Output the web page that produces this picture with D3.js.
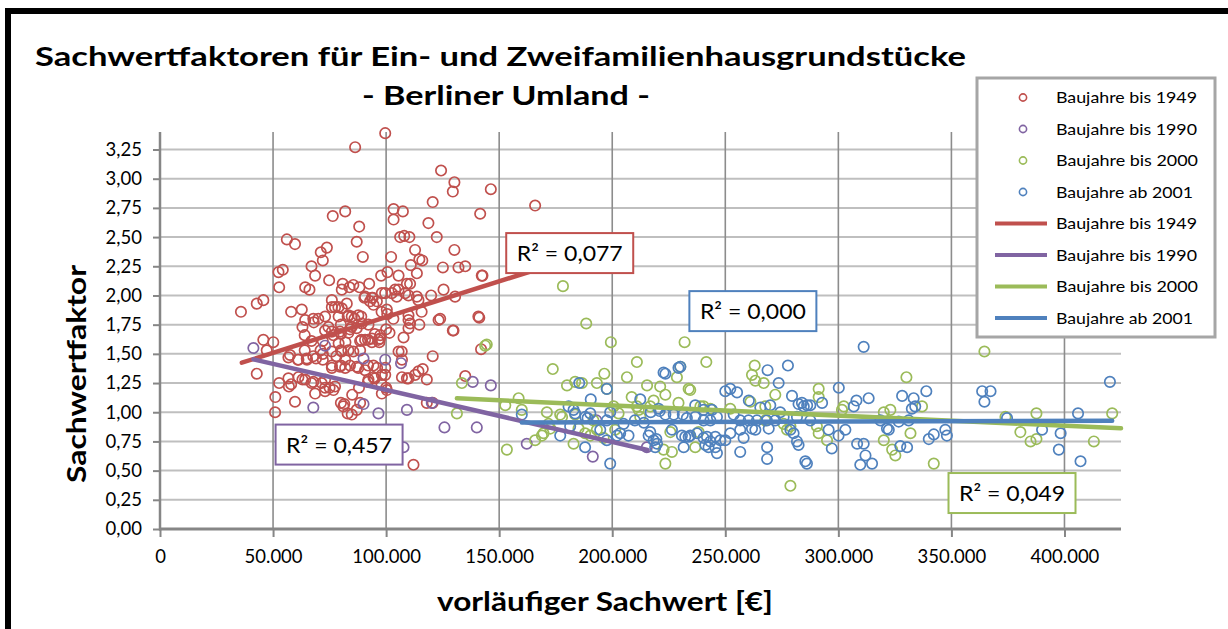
<!DOCTYPE html>
<html>
<head>
<meta charset="utf-8">
<script src="https://cdn.jsdelivr.net/npm/d3@7"></script>
<style>
  html, body { margin: 0; padding: 0; background: #fff; overflow: hidden; }
  #chart { width: 1228px; height: 629px; overflow: hidden; }
  text { font-family: Lato, "DejaVu Sans", sans-serif; fill: #000; }
</style>
</head>
<body>
<div id="chart"></div>
<script>
// x in 1.000 €, y = Sachwertfaktor
const bis1949 = [
  [35.8,1.86],[42.8,1.93],[45.7,1.96],[56.1,2.48],[59.7,2.44],[52.4,2.20],[54.3,2.22],[52.7,2.07],[45.7,1.62],[50.1,1.60],
  [58.0,1.86],[62.7,1.88],[64.2,2.07],[66.1,2.05],[67.0,2.25],[68.6,2.17],[71.1,2.37],[73.8,2.41],[72.0,2.30],[74.8,2.13],
  [76.4,2.68],[81.9,2.72],[86.3,3.27],[99.6,3.39],[88.1,2.59],[87.0,2.46],[89.7,2.33],[80.8,2.10],[83.8,2.07],[85.5,2.09],
  [88.2,2.07],[92.5,2.10],[80.4,2.05],[76.0,1.96],[78.9,1.90],[82.6,1.93],[90.4,1.98],[94.1,1.98],[92.9,1.95],[95.9,1.95],
  [97.8,2.17],[100.6,2.20],[102.2,2.33],[103.3,2.74],[103.3,2.65],[107.4,2.72],[106.2,2.50],[108.0,2.51],[110.3,2.50],[112.8,2.39],
  [114.7,2.31],[116.0,2.30],[110.9,2.26],[113.6,2.19],[109.2,2.10],[105.5,2.17],[104.0,2.05],[104.7,1.99],[99.6,2.02],[100.3,1.88],
  [98.0,1.86],[109.9,2.00],[114.3,1.96],[118.7,2.62],[120.6,2.80],[122.4,2.50],[124.3,3.07],[129.5,2.89],[130.2,2.97],[141.6,2.70],
  [146.3,2.91],[165.9,2.77],[130.2,2.39],[125.1,2.24],[132.0,2.24],[135.0,2.25],[142.6,2.17],[119.9,2.00],[125.4,2.05],[130.5,1.99],
  [123.2,1.79],[129.5,1.70],[141.2,1.81],[142.0,1.54],[120.6,1.48],[116.2,1.37],[118.0,1.28],[112.8,1.32],[109.2,1.29],[107.0,1.30],
  [107.7,1.64],[106.9,1.52],[101.5,1.68],[99.6,1.38],[99.6,1.32],[109.9,1.79],[114.7,1.75],[109.9,1.72],[103.2,1.80],[97.3,1.63],
  [95.0,1.67],[93.7,1.60],[88.5,1.61],[82.0,1.60],[79.0,1.59],[88.5,1.53],[80.0,1.53],[76.0,1.52],[72.0,1.50],[72.0,1.45],
  [76.0,1.40],[80.0,1.40],[84.0,1.40],[87.0,1.39],[92.0,1.40],[96.0,1.38],[92.0,1.26],[95.0,1.29],[98.0,1.24],[100.0,1.21],
  [88.0,1.21],[85.0,1.15],[80.0,1.08],[81.5,1.07],[87.0,1.02],[83.0,0.99],[75.0,1.21],[73.0,1.21],[67.0,1.25],[63.0,1.28],
  [58.0,1.24],[57.0,1.22],[51.0,1.13],[50.9,1.00],[52.7,1.25],[42.8,1.33],[47.2,1.53],[56.8,1.47],[61.0,1.45],[65.0,1.45],
  [69.0,1.46],[71.0,1.53],[64.0,1.53],[67.0,1.61],[72.0,1.61],[76.0,1.69],[80.0,1.67],[64.0,1.66],[63.0,1.73],[68.0,1.77],
  [70.0,1.80],[73.0,1.82],[76.0,1.90],[79.0,1.82],[83.0,1.82],[86.0,1.80],[89.0,1.82],[80.0,1.75],[84.0,1.71],[89.0,1.62],
  [92.0,1.62],[97.0,1.60],[100.0,1.71],[100.5,1.84],[59.7,1.09],[57.5,1.49],[61.2,1.45],[64.9,1.46],[67.8,1.48],[56.8,1.29],
  [61.2,1.30],[64.2,1.28],[67.8,1.26],[71.5,1.25],[73.0,1.28],[76.7,1.19],[77.4,1.22],[68.6,1.16],[73.0,1.18],[81.1,1.05],
  [84.8,0.98],[88.5,1.08],[64.2,1.79],[67.8,1.80],[77.4,1.90],[80.4,1.89],[83.3,1.83],[84.8,1.82],[87.7,1.83],[79.6,1.69],
  [83.3,1.68],[84.8,1.73],[87.0,1.72],[89.2,1.76],[92.2,1.75],[73.0,1.70],[74.5,1.73],[76.7,1.66],[90.7,1.62],[93.7,1.63],
  [96.6,1.62],[97.4,1.66],[78.0,1.48],[80.4,1.52],[83.3,1.53],[85.5,1.52],[81.9,1.45],[76.0,1.38],[79.6,1.39],[81.9,1.38],
  [87.7,1.38],[90.7,1.36],[94.4,1.40],[92.2,1.28],[94.4,1.30],[98.1,1.32],[100.3,1.19],[98.1,1.16],[105.5,1.52],[107.0,1.45],
  [109.9,1.29],[114.3,1.35],[112.1,0.55],[109.9,1.83],[110.6,1.76],[113.6,1.99],[115.7,1.86],[98.1,2.02],[102.5,2.02],[105.5,2.05],
  [108.4,2.02],[110.6,2.10],[90.7,1.99],[93.7,1.98],[94.4,1.92],[135.0,1.31],[129.8,1.70],[140.8,1.82],[142.3,2.17],[118.0,1.08],
  [120.6,1.08],[123.9,1.80]
];
const bis1990 = [
  [41.3,1.55],[73.0,1.57],[90.0,1.46],[99.6,1.45],[106.6,1.42],[67.8,1.04],[90.0,1.07],[96.6,0.99],[109.2,1.02],[138.3,1.26],
  [146.3,1.23],[125.8,0.87],[140.1,0.87],[162.2,0.73],[107.7,0.70],[120.2,1.08],[191.4,0.62],[215.3,0.70],[193.0,0.93]
];
const bis2000 = [
  [178.2,2.08],[188.5,1.76],[199.4,1.60],[232.0,1.60],[241.6,1.43],[210.9,1.43],[173.7,1.37],[206.5,1.30],[196.5,1.33],[180.0,1.23],
  [183.6,1.26],[186.6,1.25],[193.2,1.25],[197.6,1.20],[215.4,1.23],[221.2,1.22],[223.5,1.15],[233.8,1.20],[228.6,1.30],[230.1,1.39],
  [263.0,1.40],[261.8,1.32],[263.3,1.27],[267.0,1.25],[272.1,1.15],[291.3,1.20],[291.3,1.13],[330.1,1.30],[323.0,1.02],[320.1,1.00],
  [323.8,0.68],[331.9,0.82],[320.1,0.76],[342.2,0.56],[278.8,0.37],[152.7,1.06],[158.6,1.12],[160.0,1.02],[153.4,0.68],[131.3,0.99],
  [133.5,1.25],[165.9,0.76],[169.6,0.82],[171.1,1.00],[172.6,0.86],[177.0,0.98],[182.9,0.73],[183.6,0.98],[188.0,0.82],[191.7,0.93],
  [200.6,1.05],[202.8,0.99],[208.6,1.13],[210.9,1.05],[212.4,0.96],[216.8,1.05],[222.7,0.68],[223.5,0.56],[225.7,0.83],[226.4,0.66],
  [229.3,1.08],[236.7,0.70],[238.2,0.83],[240.4,1.05],[261.1,1.09],[275.8,0.90],[277.3,0.85],[290.5,0.88],[295.0,0.76],[302.4,1.05],
  [325.2,0.63],[168.9,0.80],[171.8,0.90],[177.8,0.96],[185.1,0.86],[190.3,0.80],[193.2,0.85],[196.2,0.78],[201.3,0.85],[211.7,1.02],
  [218.3,1.10],[234.5,1.19],[267.7,0.93],[278.8,0.88],[291.3,0.82],[301.6,1.02],[239.0,1.05],[243.4,1.03],[252.2,1.03],[267.7,1.05],
  [364.6,1.52],[337.0,1.05],[373.9,0.96],[380.5,0.83],[385.0,0.75],[387.6,0.77],[387.6,0.99],[413.0,0.75],[421.1,0.99],[143.8,1.57],
  [144.5,1.58]
];
const ab2001 = [
  [160.0,0.98],[185.4,1.25],[197.6,1.20],[190.5,1.11],[177.0,0.80],[181.4,0.88],[183.6,0.99],[188.0,0.70],[189.1,0.95],[190.3,0.99],
  [194.7,0.85],[197.6,0.76],[199.1,0.56],[202.1,0.80],[203.5,0.82],[207.2,0.80],[212.4,1.11],[216.1,0.80],[219.5,0.77],[219.0,0.70],
  [222.7,1.34],[229.3,1.38],[230.1,1.39],[220.5,1.03],[223.5,0.98],[227.2,0.98],[231.2,0.98],[233.0,0.95],[236.7,1.06],[236.7,0.96],
  [226.4,0.85],[230.8,0.80],[231.6,0.70],[232.3,0.79],[233.8,0.79],[197.6,0.93],[199.1,1.00],[180.7,1.05],[182.9,1.02],[311.2,1.56],
  [277.7,1.40],[268.7,1.36],[273.6,1.25],[250.0,1.18],[252.2,1.20],[255.2,1.17],[260.4,1.10],[265.5,1.04],[269.9,1.06],[274.3,1.00],
  [279.5,1.14],[283.9,1.08],[286.2,1.06],[292.8,1.08],[300.2,1.21],[308.0,1.10],[306.8,1.05],[313.4,1.12],[240.4,1.02],[244.1,1.02],
  [240.4,0.93],[243.4,0.93],[246.3,0.96],[253.7,0.98],[256.6,0.93],[260.3,0.93],[264.0,0.93],[268.4,0.93],[272.1,0.93],[275.8,0.96],
  [281.7,0.96],[287.6,0.93],[234.5,0.80],[237.5,0.82],[240.4,0.78],[241.9,0.79],[243.4,0.75],[245.6,0.79],[247.8,0.76],[241.2,0.72],
  [242.6,0.70],[245.6,0.70],[246.3,0.65],[250.0,0.76],[252.2,0.82],[256.6,0.85],[258.1,0.78],[256.6,0.66],[261.8,0.86],[263.3,0.85],
  [269.2,0.86],[268.5,0.70],[268.5,0.60],[278.8,0.85],[280.2,0.82],[281.7,0.75],[282.4,0.72],[285.4,0.58],[286.1,0.56],[295.7,0.85],
  [297.1,0.69],[300.1,0.80],[303.1,0.85],[308.3,0.73],[311.2,0.73],[312.0,0.63],[309.7,0.55],[314.9,0.56],[321.5,0.86],[328.2,1.14],
  [333.3,1.12],[338.9,1.18],[332.5,1.03],[334.0,1.05],[331.1,0.93],[322.3,0.85],[326.7,0.92],[318.6,0.93],[327.4,0.71],[330.4,0.70],
  [340.0,0.77],[342.2,0.81],[347.3,0.85],[348.0,0.80],[363.6,1.18],[367.3,1.18],[364.6,1.09],[374.6,0.95],[390.1,0.85],[398.3,0.82],
  [397.5,0.68],[406.0,0.99],[407.1,0.58],[420.1,1.26],[223.5,1.33],[282.4,1.07],[284.7,1.05],[287.6,1.06],[188.1,0.96],[216.8,0.83],
  [218.3,0.76],[219.8,0.73],[205.0,0.90],[210.0,0.93],[214.0,0.91],[217.0,1.00],[221.0,1.01]
];

// linear trendlines, endpoints
const trend1949 = [[36.2,1.424],[165.9,2.218]];
const trend1990 = [[41.3,1.453],[215.6,0.676]];
const trend2000 = [[131.3,1.119],[425.0,0.862]];
const trend2001 = [[160.0,0.913],[421.1,0.927]];

// R² labels: text and box centre in data coords
const r2Labels = [
  { text: 'R² = 0,077', at: [181.2, 2.363], color: '#C0504D' },
  { text: 'R² = 0,000', at: [262.2, 1.866], color: '#4F81BD' },
  { text: 'R² = 0,457', at: [79.2, 0.723], color: '#8064A2' },
  { text: 'R² = 0,049', at: [376.8, 0.308], color: '#9BBB59' }
];

const seriesNames = ['Baujahre bis 1949', 'Baujahre bis 1990', 'Baujahre bis 2000', 'Baujahre ab 2001'];
const seriesColors = ['#C0504D', '#8064A2', '#9BBB59', '#4F81BD'];
const xTickValues = [0, 50, 100, 150, 200, 250, 300, 350, 400];
const yTickValues = [0, 0.25, 0.5, 0.75, 1, 1.25, 1.5, 1.75, 2, 2.25, 2.5, 2.75, 3, 3.25];

const W = 1228, H = 629;
const svg = d3.select('#chart').append('svg').attr('width', W).attr('height', H)
  .style('display', 'block');

svg.append('rect').attr('width', W).attr('height', H).attr('fill', '#fff');
// chart frame: only the top and left edges fall inside the picture
svg.append('path')
  .attr('d', `M8,${H} V11 H${W}`)
  .attr('fill', 'none').attr('stroke', '#000').attr('stroke-width', 6);

const x = d3.scaleLinear().domain([0, 425]).range([160, 1121]);
const y = d3.scaleLinear().domain([0, 3.4]).range([529, 132]);

const fmtX = v => v === 0 ? '0' : d3.format(',')(v * 1000).replace(/,/g, '.');
const fmtY = v => v.toFixed(2).replace('.', ',');

// gridlines
svg.append('g').selectAll('line')
  .data(yTickValues.filter(v => v > 0))
  .join('line')
  .attr('x1', x(0)).attr('x2', x(425))
  .attr('y1', d => y(d)).attr('y2', d => y(d))
  .attr('stroke', '#BFBFBF').attr('stroke-width', 2);

svg.append('g').selectAll('line')
  .data(xTickValues.filter(v => v > 0))
  .join('line')
  .attr('x1', d => x(d)).attr('x2', d => x(d))
  .attr('y1', y(3.4)).attr('y2', y(0))
  .attr('stroke', '#8C8C8C').attr('stroke-width', 1.6);

// axes
const yAxis = svg.append('g')
  .attr('transform', `translate(${x(0)},0)`)
  .call(d3.axisLeft(y).tickValues(yTickValues).tickFormat(fmtY).tickSize(7).tickPadding(11));
const xAxis = svg.append('g')
  .attr('transform', `translate(0,${y(0)})`)
  .call(d3.axisBottom(x).tickValues(xTickValues).tickFormat(fmtX).tickSize(8).tickPadding(13));

[yAxis, xAxis].forEach(ax => {
  ax.select('.domain').remove();
  ax.selectAll('.tick line').attr('stroke', '#868686').attr('stroke-width', 2);
  ax.selectAll('.tick text')
    .attr('font-family', 'Lato, sans-serif')
    .attr('font-size', 18.5)
    .attr('fill', '#000');
});

svg.append('line')
  .attr('x1', x(0)).attr('x2', x(0)).attr('y1', y(3.4)).attr('y2', y(0) + 1.5)
  .attr('stroke', '#868686').attr('stroke-width', 2.5);
svg.append('line')
  .attr('x1', x(0) - 1).attr('x2', x(425)).attr('y1', y(0)).attr('y2', y(0))
  .attr('stroke', '#868686').attr('stroke-width', 3);

// markers
const allSeries = [bis1949, bis1990, bis2000, ab2001];
allSeries.forEach((pts, i) => {
  svg.append('g').selectAll('circle')
    .data(pts)
    .join('circle')
    .attr('cx', d => x(d[0]))
    .attr('cy', d => y(d[1]))
    .attr('r', 5.2)
    .attr('fill', 'none')
    .attr('stroke', seriesColors[i])
    .attr('stroke-width', 1.7);
});

// trendlines
const line = d3.line().x(d => x(d[0])).y(d => y(d[1]));
[trend1949, trend1990, trend2000, trend2001].forEach((t, i) => {
  svg.append('path')
    .attr('d', line(t))
    .attr('fill', 'none')
    .attr('stroke', seriesColors[i])
    .attr('stroke-width', 4.5)
    .attr('stroke-linecap', 'round');
});

// R² boxes
const r2 = svg.append('g').selectAll('g')
  .data(r2Labels)
  .join('g')
  .attr('transform', d => `translate(${x(d.at[0])},${y(d.at[1])})`);
r2.append('rect')
  .attr('x', -63.5).attr('y', -20).attr('width', 127).attr('height', 40)
  .attr('fill', '#fff')
  .attr('stroke', d => d.color).attr('stroke-width', 2);
r2.append('text')
  .attr('text-anchor', 'middle')
  .attr('y', 8)
  .attr('font-family', '"Noto Sans", sans-serif')
  .attr('font-size', 22)
  .attr('textLength', 106)
  .attr('lengthAdjust', 'spacingAndGlyphs')
  .text(d => d.text);

// titles
const fitText = (sel, w) => sel.attr('textLength', w).attr('lengthAdjust', 'spacingAndGlyphs');

fitText(svg.append('text')
  .attr('x', 35).attr('y', 66)
  .attr('font-size', 27).attr('font-weight', 700)
  .text('Sachwertfaktoren für Ein- und Zweifamilienhausgrundstücke'), 931);
fitText(svg.append('text')
  .attr('x', 362).attr('y', 105)
  .attr('font-size', 27).attr('font-weight', 700)
  .text('- Berliner Umland -'), 288);

fitText(svg.append('text')
  .attr('transform', 'translate(86,374) rotate(-90)')
  .attr('text-anchor', 'middle')
  .attr('font-size', 26).attr('font-weight', 700)
  .text('Sachwertfaktor'), 218);

fitText(svg.append('text')
  .attr('x', 605).attr('y', 611)
  .attr('text-anchor', 'middle')
  .attr('font-size', 26).attr('font-weight', 700)
  .text('vorläufiger Sachwert [€]'), 336);

// legend
const legend = svg.append('g');
legend.append('rect')
  .attr('x', 977).attr('y', 78).attr('width', 238).attr('height', 259)
  .attr('fill', '#fff').attr('stroke', '#A6A6A6').attr('stroke-width', 3);

const legendRows = seriesNames.map((n, i) => ({ name: n, color: seriesColors[i], kind: 'marker' }))
  .concat(seriesNames.map((n, i) => ({ name: n, color: seriesColors[i], kind: 'line' })));
const legendWidths = { 'Baujahre bis 1949': 141, 'Baujahre bis 1990': 141, 'Baujahre bis 2000': 142, 'Baujahre ab 2001': 137 };

const row = legend.selectAll('g.row')
  .data(legendRows)
  .join('g')
  .attr('class', 'row')
  .attr('transform', (d, i) => `translate(0,${97.5 + i * 31.5})`);

row.filter(d => d.kind === 'marker').append('circle')
  .attr('cx', 1023).attr('cy', 0).attr('r', 3.6)
  .attr('fill', 'none').attr('stroke', d => d.color).attr('stroke-width', 1.6);
row.filter(d => d.kind === 'line').append('line')
  .attr('x1', 995).attr('x2', 1047).attr('y1', 0).attr('y2', 0)
  .attr('stroke', d => d.color).attr('stroke-width', 4);
row.append('text')
  .attr('x', 1056).attr('y', 5.5)
  .attr('font-size', 16)
  .attr('textLength', d => legendWidths[d.name])
  .attr('lengthAdjust', 'spacingAndGlyphs')
  .text(d => d.name);
</script>
</body>
</html>
